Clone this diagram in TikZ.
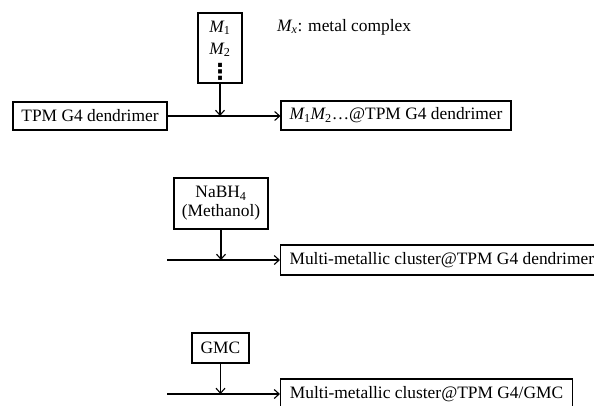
\documentclass[tikz,border=0pt]{standalone}
\usepackage{fontspec}
\setmainfont{Liberation Serif}
\newfontfamily\djv{DejaVu Sans}
\usetikzlibrary{arrows.meta}
\tikzset{
  box/.style={draw, line width=1.1pt, inner sep=0pt, font=\fontsize{17.4}{20}\selectfont},
  lbl/.style={inner sep=0pt, font=\fontsize{17.4}{20}\selectfont},
  conn/.style={line width=1.1pt, -{Straight Barb[length=5pt,width=9pt,line width=1.1pt]}}
}
\begin{document}
\begin{tikzpicture}[x=1pt,y=-1pt]
\useasboundingbox (0,0) rectangle (594,405);
\clip (0,0) rectangle (594,405);
% row 1
\node[box, minimum width=44pt, minimum height=70pt] (mbox) at (220,48) {};
\node[lbl] (m1) at (220,28) {{\itshape M}\textsubscript{1}};
\node[lbl] (m2) at (220,50) {{\itshape M}\textsubscript{2}};
\node[lbl, font=\djv\bfseries\fontsize{22}{24}\selectfont] (mdots) at (220,72) {⋮};
\node[lbl, anchor=west] (legend) at (277,27) {{\itshape M\textsubscript{x}}: metal complex};
\node[box, minimum width=154pt, minimum height=28pt] (tpm) at (90,116) {TPM G4 dendrimer};
\node[box, minimum width=230pt, minimum height=29pt] (p1) at (396,115.5) {{\itshape M}\textsubscript{1}{\itshape M}\textsubscript{2}\ldots@TPM G4 dendrimer};
\coordinate (j1) at (mbox.south |- tpm.east);
\draw[conn] (tpm.east) -- (p1.west |- tpm.east);
\draw[conn] (mbox.south) -- (j1);
% row 2
\node[box, minimum width=94pt, minimum height=51pt, align=center] (nabh) at (221,203.5) {NaBH\textsubscript{4}\\[-1pt](Methanol)};
\node[box, minimum height=30pt, anchor=west, inner xsep=9pt] (p2) at (280,260) {Multi-metallic cluster@TPM G4 dendrimer};
\coordinate (s2) at (167,260);
\coordinate (j2) at (nabh.south |- s2);
\draw[conn] (s2) -- (p2.west);
\draw[conn] (nabh.south) -- (j2);
% row 3
\node[box, minimum width=57pt, minimum height=30pt] (gmc) at (220.5,348) {GMC};
\node[box, minimum height=30pt, minimum width=292pt, anchor=west] (p3) at (280,394) {Multi-metallic cluster@TPM G4/GMC};
\coordinate (s3) at (167,394);
\coordinate (j3) at (gmc.south |- s3);
\draw[conn] (s3) -- (p3.west);
\draw[conn] (gmc.south) -- (j3);
\end{tikzpicture}
\end{document}
